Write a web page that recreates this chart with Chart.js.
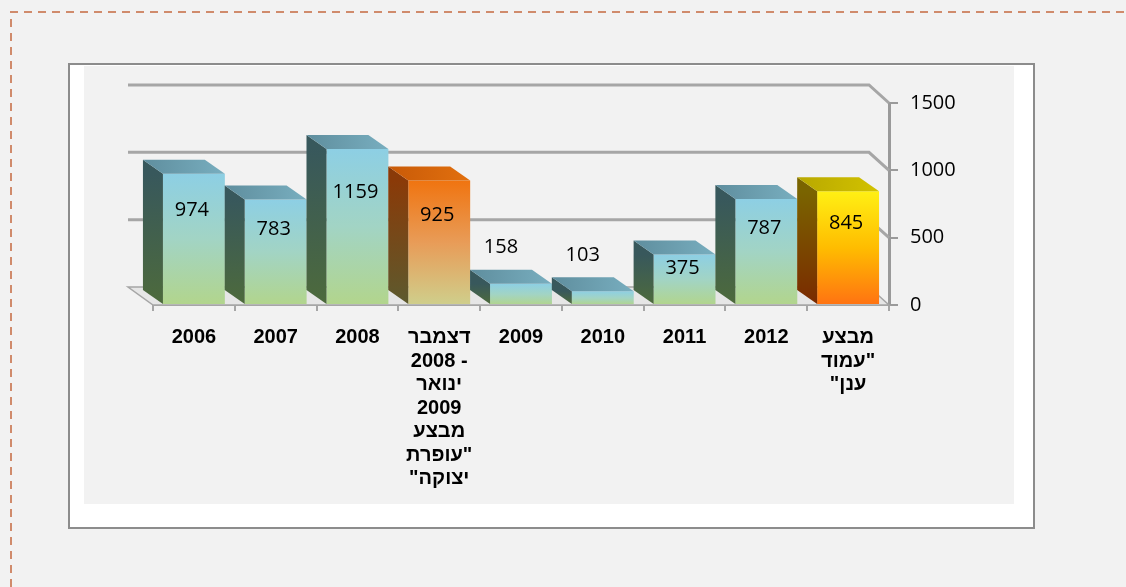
<!DOCTYPE html>
<html><head><meta charset="utf-8">
<script src="https://cdn.jsdelivr.net/npm/chart.js@4/dist/chart.umd.min.js"></script>
<style>html,body{margin:0;padding:0;background:#f2f2f2;overflow:hidden}canvas{display:block}</style>
</head><body>
<canvas id="c" width="1126" height="587"></canvas>
<script>
// ---- data ----
const categories = [
  ["2006"], ["2007"], ["2008"],
  ["דצמבר", "2008 -", "ינואר", "2009", "מבצע", "עופרת\"", "\"יצוקה"],
  ["2009"], ["2010"], ["2011"], ["2012"],
  ["מבצע", "עמוד\"", "\"ענן"]
];
const values = [974, 783, 1159, 925, 158, 103, 375, 787, 845];
const barKinds = ["blue", "blue", "blue", "orange", "blue", "blue", "blue", "blue", "yellow"];
const yTicks = [0, 500, 1000, 1500];

// ---- styles ----
const palettes = {
  blue:   { front: [[0, '#8dcfe4'], [0.5, '#a2d4c4'], [1, '#b2d58c']], side: [[0, '#38585c'], [1, '#4d6a3c']], top: [[0, '#5f8e9e'], [1, '#78aebf']] },
  orange: { front: [[0, '#f07410'], [0.5, '#e89c58'], [1, '#cfcf8c']], side: [[0, '#8a3a08'], [1, '#5d5a2e']], top: [[0, '#c85a08'], [1, '#e2700e']] },
  yellow: { front: [[0, '#fff014'], [0.5, '#ffbc00'], [1, '#ff7212']], side: [[0, '#7a6400'], [1, '#7a2a00']], top: [[0, '#b8a800'], [1, '#d2c200']] }
};
const DEPTH_X = -20, DEPTH_Y = -14;
const GRID_DX = -20, GRID_DY = -18;

function grad(ctx, x0, y0, x1, y1, stops) {
  const g = ctx.createLinearGradient(x0, y0, x1, y1);
  stops.forEach(s => g.addColorStop(s[0], s[1]));
  return g;
}

const backgroundPlugin = {
  id: 'bg',
  beforeDraw(chart) {
    const ctx = chart.ctx;
    ctx.save();
    ctx.fillStyle = '#f2f2f2';
    ctx.fillRect(0, 0, chart.width, chart.height);
    ctx.setLineDash([8, 6]);
    ctx.strokeStyle = '#d08b6c';
    ctx.lineWidth = 2;
    ctx.beginPath();
    ctx.moveTo(11, chart.height);
    ctx.lineTo(11, 12);
    ctx.lineTo(chart.width, 12);
    ctx.stroke();
    ctx.setLineDash([]);
    ctx.fillStyle = '#ffffff';
    ctx.fillRect(69, 64, 965, 464);
    ctx.strokeStyle = '#8c8c8c';
    ctx.lineWidth = 2;
    ctx.strokeRect(69, 64, 965, 464);
    ctx.fillStyle = '#f2f2f2';
    ctx.fillRect(84, 66, 930, 438);
    ctx.restore();
  }
};

const gridPlugin = {
  id: 'grid3d',
  beforeDatasetsDraw(chart) {
    const ctx = chart.ctx, ys = chart.scales.y, a = chart.chartArea;
    ctx.save();
    const y0 = ys.getPixelForValue(0);
    ctx.fillStyle = '#e6e6e6';
    ctx.strokeStyle = '#a6a6a6';
    ctx.lineWidth = 1.5;
    ctx.beginPath();
    ctx.moveTo(a.left - 25, y0 + GRID_DY);
    ctx.lineTo(a.right + GRID_DX, y0 + GRID_DY);
    ctx.lineTo(a.right, y0);
    ctx.lineTo(a.left, y0);
    ctx.closePath();
    ctx.fill();
    ctx.stroke();
    ctx.strokeStyle = '#a6a6a6';
    ctx.lineWidth = 3;
    yTicks.filter(v => v > 0).forEach(v => {
      const y = ys.getPixelForValue(v);
      ctx.beginPath();
      ctx.moveTo(a.left - 25, y + GRID_DY);
      ctx.lineTo(a.right + GRID_DX, y + GRID_DY);
      ctx.lineTo(a.right, y);
      ctx.stroke();
    });
    ctx.restore();
  }
};

const bar3dPlugin = {
  id: 'bar3d',
  afterDatasetsDraw(chart) {
    const ctx = chart.ctx, meta = chart.getDatasetMeta(0), ys = chart.scales.y;
    ctx.save();
    meta.data.forEach((bar, i) => {
      const p = palettes[barKinds[i]];
      const l = bar.x - bar.width / 2, r = bar.x + bar.width / 2, t = bar.y, b = bar.base;
      ctx.fillStyle = grad(ctx, 0, t, 0, b, p.side);
      ctx.beginPath();
      ctx.moveTo(l, t); ctx.lineTo(l, b);
      ctx.lineTo(l + DEPTH_X, b + DEPTH_Y); ctx.lineTo(l + DEPTH_X, t + DEPTH_Y);
      ctx.closePath(); ctx.fill();
      ctx.fillStyle = grad(ctx, l + DEPTH_X, 0, r, 0, p.top);
      ctx.beginPath();
      ctx.moveTo(l, t); ctx.lineTo(r, t);
      ctx.lineTo(r + DEPTH_X, t + DEPTH_Y); ctx.lineTo(l + DEPTH_X, t + DEPTH_Y);
      ctx.closePath(); ctx.fill();
    });
    ctx.fillStyle = '#000';
    ctx.font = '20px "Open Sans", "Liberation Sans", sans-serif';
    ctx.textAlign = 'center';
    ctx.textBaseline = 'middle';
    meta.data.forEach((bar, i) => {
      const v = values[i];
      let x, y;
      if (v < 200) {
        x = bar.x + DEPTH_X;
        y = bar.y + DEPTH_Y - 22;
      } else {
        x = bar.x - 2;
        y = ys.getPixelForValue(v * 0.72);
      }
      ctx.fillText(String(v), x, y);
    });
    ctx.restore();
  }
};

const W = 1126, H = 587;
new Chart(document.getElementById('c'), {
  type: 'bar',
  data: {
    labels: categories,
    datasets: [{
      data: values,
      borderWidth: 0,
      barPercentage: 0.757,
      categoryPercentage: 1,
      backgroundColor(ctx) {
        const chart = ctx.chart;
        if (!chart.chartArea || ctx.dataIndex === undefined) return '#8dcfe4';
        const ys = chart.scales.y;
        const t = ys.getPixelForValue(values[ctx.dataIndex]);
        const b = ys.getPixelForValue(0);
        return grad(chart.ctx, 0, t, 0, b, palettes[barKinds[ctx.dataIndex]].front);
      }
    }]
  },
  options: {
    responsive: false,
    devicePixelRatio: 1,
    animation: false,
    layout: { padding: { left: 153, top: 103, right: W - 889 - 70, bottom: H - 305 - 200 } },
    plugins: { legend: { display: false }, tooltip: { enabled: false } },
    scales: {
      x: {
        grid: { offset: true, drawOnChartArea: false, tickLength: 6, color: '#a6a6a6', lineWidth: 2 },
        border: { color: '#a6a6a6', width: 2 },
        ticks: {
          color: '#000', maxRotation: 0, minRotation: 0, autoSkip: false, padding: 15,
          font: { family: '"Liberation Sans", Arial, sans-serif', weight: 'bold', size: 20, lineHeight: '23.5px' }
        },
        afterFit(s) { s.height = 200; }
      },
      y: {
        position: 'right',
        min: 0, max: 1500,
        afterBuildTicks(s) { s.ticks = yTicks.map(v => ({ value: v })); },
        grid: { drawOnChartArea: false, tickLength: 9, color: '#9a9a9a', lineWidth: 2 },
        border: { color: '#9a9a9a', width: 3 },
        ticks: { color: '#000', padding: 12, callback: v => String(v), font: { family: '"Open Sans", "Liberation Sans", sans-serif', size: 20 } },
        afterFit(s) { s.width = 70; }
      }
    }
  },
  plugins: [backgroundPlugin, gridPlugin, bar3dPlugin]
});
</script>
</body></html>
